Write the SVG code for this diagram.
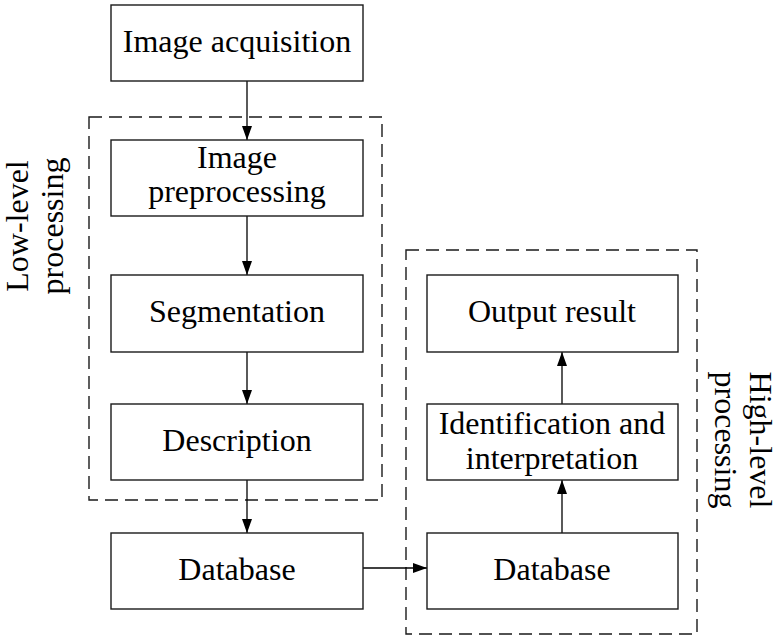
<svg xmlns="http://www.w3.org/2000/svg" width="781" height="640" viewBox="0 0 781 640">
<defs>
<style>
.box{fill:#fff;stroke:#1a1a1a;stroke-width:1.4}
.dash{fill:none;stroke:#1a1a1a;stroke-width:1.4;stroke-dasharray:13 7}
.t{font-family:'Times New Roman','Liberation Serif','DejaVu Serif',serif;font-size:32px;fill:#000;text-anchor:middle}
.c{fill:none;stroke:#000;stroke-width:1.3}
</style>
<marker id="ah" markerWidth="14" markerHeight="10" refX="14" refY="5" orient="auto" markerUnits="userSpaceOnUse" viewBox="0 0 14 10">
<path d="M0,0 L14,5 L0,10 Z" fill="#000"/>
</marker>
</defs>
<rect width="781" height="640" fill="#fff"/>
<g id="groups">
<rect id="low-level" class="dash" x="89" y="117" width="293" height="383"/>
<rect id="high-level" class="dash" x="406" y="250" width="291" height="384"/>
<text class="t" transform="translate(28,226) rotate(-90)">Low-level</text>
<text class="t" transform="translate(63,226) rotate(-90)">processing</text>
<text class="t" transform="translate(750,440) rotate(90)">High-level</text>
<text class="t" transform="translate(715,440) rotate(90)">processing</text>
</g>
<g id="connectors">
<line class="c" x1="247" y1="81" x2="247" y2="140" marker-end="url(#ah)"/>
<line class="c" x1="247" y1="216" x2="247" y2="275" marker-end="url(#ah)"/>
<line class="c" x1="247" y1="352" x2="247" y2="404" marker-end="url(#ah)"/>
<line class="c" x1="247" y1="480" x2="247" y2="533" marker-end="url(#ah)"/>
<line class="c" x1="363" y1="568" x2="427" y2="568" marker-end="url(#ah)"/>
<line class="c" x1="562" y1="533" x2="562" y2="480" marker-end="url(#ah)"/>
<line class="c" x1="562" y1="404" x2="562" y2="352" marker-end="url(#ah)"/>
</g>
<g id="image-acquisition">
<rect class="box" x="111" y="5" width="252" height="76"/>
<text class="t" x="237" y="52">Image acquisition</text>
</g>
<g id="image-preprocessing">
<rect class="box" x="111" y="140" width="252" height="76"/>
<text class="t" x="237" y="168">Image</text>
<text class="t" x="237" y="202">preprocessing</text>
</g>
<g id="segmentation">
<rect class="box" x="111" y="275" width="252" height="77"/>
<text class="t" x="237" y="322">Segmentation</text>
</g>
<g id="description">
<rect class="box" x="111" y="404" width="252" height="76"/>
<text class="t" x="237" y="451">Description</text>
</g>
<g id="database-left">
<rect class="box" x="111" y="533" width="252" height="76"/>
<text class="t" x="237" y="580">Database</text>
</g>
<g id="output-result">
<rect class="box" x="427" y="275" width="251" height="77"/>
<text class="t" x="552" y="322">Output result</text>
</g>
<g id="identification">
<rect class="box" x="427" y="404" width="251" height="76"/>
<text class="t" x="552" y="434">Identification and</text>
<text class="t" x="552" y="469">interpretation</text>
</g>
<g id="database-right">
<rect class="box" x="427" y="533" width="251" height="76"/>
<text class="t" x="552" y="580">Database</text>
</g>
</svg>
